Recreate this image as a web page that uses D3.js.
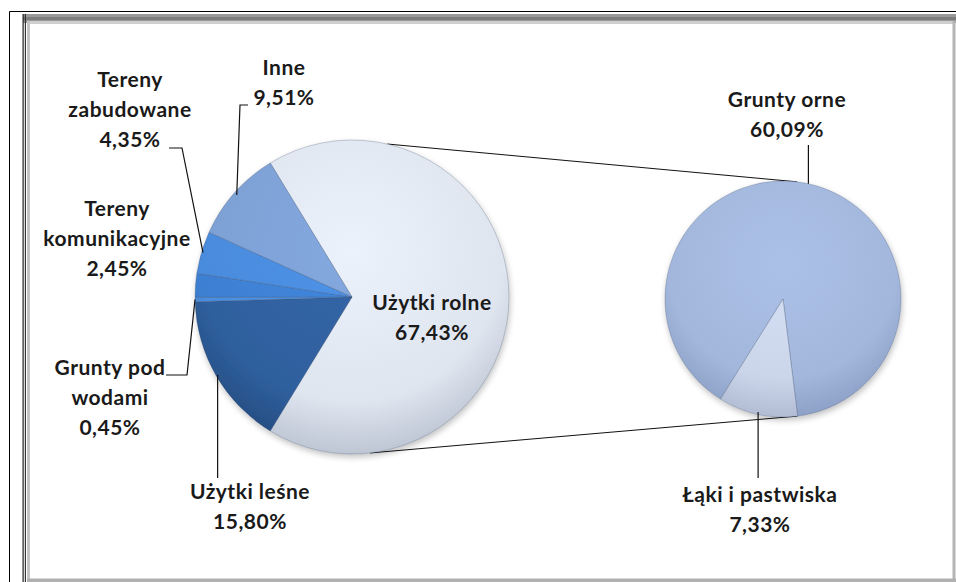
<!DOCTYPE html>
<html>
<head>
<meta charset="utf-8">
<script src="https://cdn.jsdelivr.net/npm/d3@7"></script>
<style>
  html, body { margin: 0; padding: 0; background: #fff; }
  #chart text { font-family: Lato, "Noto Sans", sans-serif; font-weight: 700; font-size: 21px; letter-spacing: 0.5px; fill: #1a1a1a; }
</style>
</head>
<body>
<div id="chart"></div>
<script>
// main pie: land use shares (%)
var mainCategories = ["Użytki rolne", "Użytki leśne", "Grunty pod wodami", "Tereny komunikacyjne", "Tereny zabudowane", "Inne"];
var mainValues = [67.43, 15.80, 0.45, 2.45, 4.35, 9.51];
// second pie: split of "Użytki rolne"
var subCategories = ["Grunty orne", "Łąki i pastwiska"];
var subValues = [60.09, 7.33];

document.addEventListener("DOMContentLoaded", function () {
  var width = 956,
    height = 582;

  var svg = d3.select("#chart").append("svg").attr("width", width).attr("height", height);
  var defs = svg.append("defs");

  var fmt = function (v) {
    return d3.format(".2f")(v).replace(".", ",") + "%";
  };
  var rad = function (deg) {
    return (deg * Math.PI) / 180;
  };

  // frame
  svg.append("line").attr("x1", 9.5).attr("y1", 11.5).attr("x2", width).attr("y2", 11.5).attr("stroke", "#000");
  svg.append("line").attr("x1", 9.5).attr("y1", 11.5).attr("x2", 9.5).attr("y2", height).attr("stroke", "#000");
  svg.append("rect").attr("x", 23).attr("y", 14).attr("width", width - 23).attr("height", 9).attr("fill", "#9a9a9a");
  svg.append("rect").attr("x", 23).attr("y", 17).attr("width", width - 23).attr("height", 3).attr("fill", "#7d7d7d");
  svg.append("rect").attr("x", 27).attr("y", 21).attr("width", width - 30).attr("height", 3).attr("fill", "#cfcfcf");
  svg.append("rect").attr("x", 27).attr("y", 21).attr("width", 3).attr("height", height - 21).attr("fill", "#c4c4c4");
  svg.append("rect").attr("x", 22.5).attr("y", 14).attr("width", 1.2).attr("height", height).attr("fill", "#222");
  svg.append("rect").attr("x", 24.8).attr("y", 14).attr("width", 1.2).attr("height", height).attr("fill", "#333");
  svg.append("rect").attr("x", 952.5).attr("y", 21).attr("width", 3).attr("height", height).attr("fill", "#b5b5b5");
  svg.append("rect").attr("x", 27).attr("y", 578.5).attr("width", width - 27).attr("height", 4).attr("fill", "#b0b0b0");

  // geometry
  var main = { cx: 352, cy: 297, r: 157 };
  var sub = { cx: 783, cy: 299, r: 118 };

  var total = d3.sum(mainValues);
  var mainStart = Math.PI / 2 - (mainValues[0] / total) * Math.PI;
  var mainPie = d3.pie().sort(null).startAngle(mainStart).endAngle(mainStart + 2 * Math.PI);
  var subPie = d3.pie().sort(null).startAngle(rad(212)).endAngle(rad(212) + 2 * Math.PI);

  var mainColors = ["#dfe5ef", "#2f609e", "#4b8ee0", "#3e80d2", "#4a8bdc", "#7da0d4"];
  var mainEdge = ["#b9c1d0", "#24497c", "#3a72bd", "#306aae", "#3a71bb", "#6182b9"];
  var subColors = ["#a3b7dc", "#cbd5ea"];
  var subEdge = ["#8a9dc4", "#aeb9d1"];

  // gradients in each pie's local coords (centre at 0,0)
  function gradient(id, inner, edge, r) {
    var g = defs
      .append("radialGradient")
      .attr("id", id)
      .attr("gradientUnits", "userSpaceOnUse")
      .attr("cx", 0)
      .attr("cy", -r * 0.3)
      .attr("r", r * 1.35);
    g.append("stop").attr("offset", "0%").attr("stop-color", d3.color(inner).brighter(0.15));
    g.append("stop").attr("offset", "72%").attr("stop-color", inner);
    g.append("stop").attr("offset", "100%").attr("stop-color", edge);
  }
  mainColors.forEach(function (c, i) {
    gradient("mg" + i, c, mainEdge[i], main.r);
  });
  subColors.forEach(function (c, i) {
    gradient("sg" + i, c, subEdge[i], sub.r);
  });

  var shadow = defs.append("filter").attr("id", "shadow").attr("x", "-20%").attr("y", "-20%").attr("width", "140%").attr("height", "140%");
  shadow.append("feGaussianBlur").attr("in", "SourceAlpha").attr("stdDeviation", 3);
  shadow.append("feOffset").attr("dx", 1).attr("dy", 3).attr("result", "b");
  shadow.append("feComponentTransfer").append("feFuncA").attr("type", "linear").attr("slope", 0.25);
  var mrg = shadow.append("feMerge");
  mrg.append("feMergeNode");
  mrg.append("feMergeNode").attr("in", "SourceGraphic");

  // connector lines between pies
  var connA = [rad(13), rad(173.4)];
  var connB = [rad(6.8), rad(173)];
  connA.forEach(function (a, i) {
    var b = connB[i];
    svg
      .append("line")
      .attr("x1", main.cx + main.r * Math.sin(a))
      .attr("y1", main.cy - main.r * Math.cos(a))
      .attr("x2", sub.cx + sub.r * Math.sin(b))
      .attr("y2", sub.cy - sub.r * Math.cos(b))
      .attr("stroke", "#111")
      .attr("stroke-width", 1);
  });

  var mainArc = d3.arc().innerRadius(0).outerRadius(main.r);
  var subArc = d3.arc().innerRadius(0).outerRadius(sub.r);

  var mainData = mainPie(mainValues);
  svg
    .append("g")
    .attr("transform", "translate(" + main.cx + "," + main.cy + ")")
    .attr("filter", "url(#shadow)")
    .selectAll("path")
    .data(mainData)
    .enter()
    .append("path")
    .attr("d", mainArc)
    .attr("fill", function (d, i) {
      return "url(#mg" + i + ")";
    })
    .attr("stroke", "rgba(60,75,105,0.35)")
    .attr("stroke-width", 0.8);

  var subData = subPie(subValues);
  svg
    .append("g")
    .attr("transform", "translate(" + sub.cx + "," + sub.cy + ")")
    .attr("filter", "url(#shadow)")
    .selectAll("path")
    .data(subData)
    .enter()
    .append("path")
    .attr("d", subArc)
    .attr("fill", function (d, i) {
      return "url(#sg" + i + ")";
    })
    .attr("stroke", "rgba(60,75,105,0.35)")
    .attr("stroke-width", 0.8);

  // label layout: text centre x, first line y, leader elbows
  var mainLabels = [
    { lines: ["Użytki rolne"], x: 432, y: 310, leader: null },
    { lines: ["Użytki leśne"], x: 250, y: 499, leader: { r: 0.99, pts: [[0, 478]], vertical: true } },
    { lines: ["Grunty pod", "wodami"], x: 110, y: 375, leader: { r: 1, pts: [[187, 375], [166, 375]] } },
    { lines: ["Tereny", "komunikacyjne"], x: 117, y: 216, leader: null },
    { lines: ["Tereny", "zabudowane"], x: 130, y: 87, leader: { r: 0.99, pts: [[182, 148], [169, 148]] } },
    { lines: ["Inne"], x: 284, y: 75, leader: { r: 0.98, pts: [[240, 105], [248, 105]] } }
  ];
  var subLabels = [
    { lines: ["Grunty orne"], x: 787, y: 107, leader: { r: 1, pts: [[0, 145]], vertical: true } },
    { lines: ["Łąki i pastwiska"], x: 760, y: 502, leader: { r: 0.98, pts: [[0, 478]], vertical: true } }
  ];

  function drawLabels(data, labels, c, values) {
    data.forEach(function (d, i) {
      var L = labels[i];
      var mid = (d.startAngle + d.endAngle) / 2;
      if (L.leader) {
        var px = c.cx + c.r * L.leader.r * Math.sin(mid);
        var py = c.cy - c.r * L.leader.r * Math.cos(mid);
        var pts = [[px, py]];
        L.leader.pts.forEach(function (p) {
          pts.push(L.leader.vertical ? [px, p[1]] : p);
        });
        svg.append("path").attr("d", d3.line()(pts)).attr("fill", "none").attr("stroke", "#111").attr("stroke-width", 1.2);
      }
      var t = svg.append("text").attr("text-anchor", "middle");
      var lines = L.lines.concat([fmt(values[i])]);
      lines.forEach(function (s, j) {
        t.append("tspan").attr("x", L.x).attr("y", L.y + j * 30).text(s);
      });
    });
  }
  drawLabels(mainData, mainLabels, main, mainValues);
  drawLabels(subData, subLabels, sub, subValues);
});
</script>
</body>
</html>
